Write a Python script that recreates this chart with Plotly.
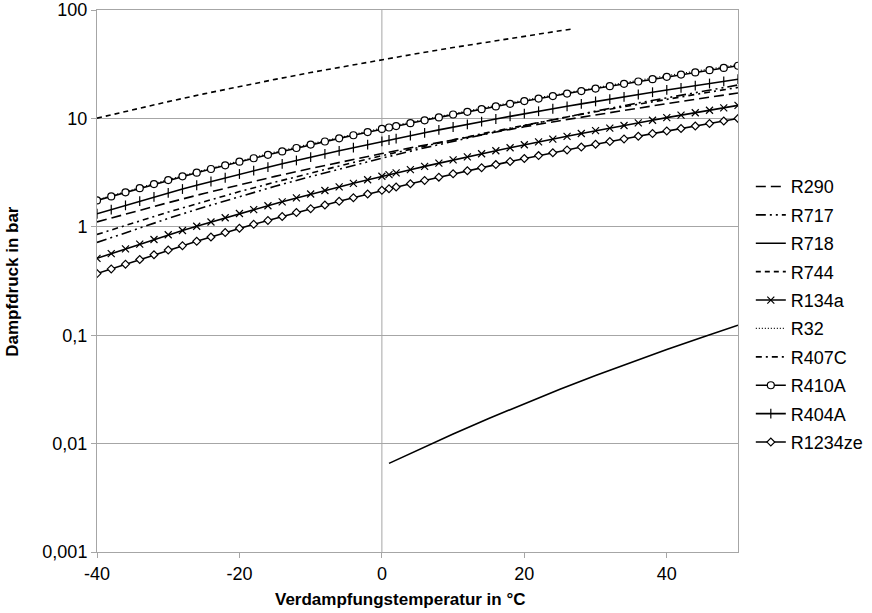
import plotly.graph_objects as go

# Temperatures (°C) for marker series
T = [-40, -38, -36, -34, -32, -30, -28, -26, -24, -22, -20, -18, -16, -14, -12, -10,
     -8, -6, -4, -2, 0, 1, 2, 4, 6, 8, 10, 12, 14, 16, 18, 20, 22, 24, 26, 28, 30,
     32, 34, 36, 38, 40, 42, 44, 46, 48, 50]

r410a = [1.75, 1.908, 2.082, 2.270, 2.476, 2.70, 2.920, 3.157, 3.413, 3.690, 3.99, 4.290,
         4.612, 4.958, 5.330, 5.73, 6.124, 6.545, 6.995, 7.476, 7.99, 8.24, 8.496, 9.034,
         9.606, 10.214, 10.86, 11.497, 12.172, 12.886, 13.64, 14.44, 15.23, 16.07, 16.94,
         17.87, 18.85, 19.82, 20.83, 21.90, 23.02, 24.20, 25.37, 26.58, 27.86, 29.20, 30.6]
r404a = [1.32, 1.443, 1.577, 1.724, 1.885, 2.06, 2.231, 2.416, 2.617, 2.835, 3.07, 3.299,
         3.546, 3.810, 4.094, 4.40, 4.702, 5.024, 5.369, 5.737, 6.13, 6.32, 6.517, 6.929,
         7.368, 7.835, 8.33, 8.815, 9.327, 9.870, 10.443, 11.05, 11.64, 12.27, 12.93,
         13.62, 14.35, 15.07, 15.82, 16.61, 17.44, 18.3, 19.16, 20.05, 20.99, 21.97, 23.0]
r134a = [0.512, 0.5659, 0.6253, 0.6911, 0.7637, 0.844, 0.924, 1.0115, 1.107, 1.212, 1.327,
         1.441, 1.565, 1.700, 1.847, 2.006, 2.163, 2.334, 2.517, 2.715, 2.928, 3.032, 3.139,
         3.365, 3.608, 3.867, 4.146, 4.421, 4.715, 5.027, 5.361, 5.717, 6.068, 6.441, 6.837,
         7.257, 7.702, 8.142, 8.607, 9.098, 9.617, 10.166, 10.708, 11.28, 11.88, 12.52, 13.18]
r1234ze = [0.37, 0.4089, 0.4519, 0.4994, 0.5519, 0.61, 0.6693, 0.7343, 0.8057, 0.884, 0.97,
           1.054, 1.145, 1.245, 1.353, 1.47, 1.589, 1.718, 1.857, 2.007, 2.17, 2.247, 2.327,
           2.496, 2.677, 2.872, 3.08, 3.288, 3.510, 3.747, 4.000, 4.27, 4.537, 4.820, 5.121,
           5.440, 5.78, 6.115, 6.469, 6.844, 7.240, 7.66, 8.076, 8.515, 8.979, 9.466, 9.98]

# Line-only series (5 °C steps)
T5 = [-40, -35, -30, -25, -20, -15, -10, -5, 0, 5, 10, 15, 20, 25, 30, 35, 40, 45, 50]
r290 = [1.11, 1.37, 1.67, 2.03, 2.44, 2.92, 3.45, 4.06, 4.74, 5.51, 6.36, 7.32, 8.36, 9.53,
        10.79, 12.18, 13.69, 15.34, 17.13]
r717 = [0.717, 0.931, 1.195, 1.515, 1.901, 2.365, 2.908, 3.549, 4.294, 5.164, 6.150, 7.283,
        8.575, 10.03, 11.67, 13.50, 15.55, 17.82, 20.33]
r32 = [1.77, 2.21, 2.73, 3.34, 4.06, 4.89, 5.83, 6.91, 8.13, 9.51, 11.07, 12.81, 14.74,
       16.89, 19.27, 21.88, 24.78, 27.93, 31.41]
r407c = [0.85, 1.08, 1.367, 1.70, 2.112, 2.58, 3.141, 3.78, 4.529, 5.38, 6.343, 7.43, 8.649,
         10.02, 11.53, 13.20, 15.05, 17.07, 19.29]

T_r744 = [-40, -35, -30, -25, -20, -15, -10, -5, 0, 5, 10, 15, 20, 25, 27]
r744 = [10.05, 12.02, 14.28, 16.83, 19.70, 22.90, 26.49, 30.47, 34.85, 39.69, 45.02, 50.87,
        57.29, 64.34, 67.1]

T_r718 = [1, 5, 10, 15, 20, 25, 30, 35, 40, 45, 50]
r718 = [0.00657, 0.00873, 0.01228, 0.01706, 0.02339, 0.03170, 0.04247, 0.05629, 0.07385,
        0.09595, 0.1235]

y_tickvals = [0.001, 0.01, 0.1, 1, 10, 100]
y_ticktext = ["0,001", "0,01", "0,1", "1", "10", "100"]
x_tickvals = [-40, -20, 0, 20, 40]
x_ticktext = ["-40", "-20", "0", "20", "40"]

FONT = "Liberation Sans, Arial, sans-serif"
BLACK = "#000000"
GRID = "#a6a6a6"

fig = go.Figure()

def add(name, x, y, dash="solid", width=1.6, symbol=None, msize=7, fill="white"):
    mode = "lines+markers" if symbol else "lines"
    kw = dict(x=x, y=y, name=name, mode=mode, legendgroup=name,
              line=dict(color=BLACK, width=width, dash=dash))
    if symbol:
        kw["marker"] = dict(symbol=symbol, size=msize, color=fill,
                            line=dict(color=BLACK, width=1.2))
    fig.add_trace(go.Scatter(**kw))

add("R290", T5, r290, dash="10px,5px")
add("R717", T5, r717, dash="10px,4px,2px,4px,2px,4px")
add("R718", T_r718, r718, dash="solid")
add("R744", T_r744, r744, dash="5px,4px")
add("R134a", T, r134a, symbol="x-thin", msize=7, fill=BLACK)
add("R32", T5, r32, dash="1px,2px", width=1.2)
add("R407C", T5, r407c, dash="6px,4px,2px,4px")
add("R410A", T, r410a, symbol="circle", msize=7)
add("R404A", T, r404a, symbol="line-ns", msize=7, fill=BLACK)
add("R1234ze", T, r1234ze, symbol="diamond", msize=6)

fig.add_shape(type="line", xref="x", yref="paper", x0=0, x1=0, y0=0, y1=1,
              line=dict(color=GRID, width=1), layer="below")

fig.update_layout(
    width=872, height=613,
    margin=dict(l=97, r=134, t=10, b=61, autoexpand=False),
    paper_bgcolor="white", plot_bgcolor="white",
    font=dict(family=FONT, size=18, color=BLACK),
    showlegend=True,
    legend=dict(x=1.02, y=0.708, xanchor="left", yanchor="top",
                font=dict(family=FONT, size=18, color=BLACK),
                tracegroupgap=2, itemwidth=30, bgcolor="rgba(0,0,0,0)"),
    xaxis=dict(range=[-40, 50], tickvals=x_tickvals, ticktext=x_ticktext,
               showgrid=False, zeroline=False, mirror=True,
               showline=True, linecolor=GRID, linewidth=1, ticks="outside", ticklen=5,
               tickcolor=GRID, tickfont=dict(family=FONT, size=18, color=BLACK),
               automargin=False, ticklabeloverflow="allow"),
    yaxis=dict(type="log", range=[-3, 2], tickvals=y_tickvals, ticktext=y_ticktext,
               showgrid=True, gridcolor=GRID, gridwidth=1, zeroline=False, mirror=True,
               showline=True, linecolor=GRID, linewidth=1, ticks="outside", ticklen=5,
               tickcolor=GRID, tickfont=dict(family=FONT, size=18, color=BLACK),
               automargin=False, ticklabeloverflow="allow"),
    annotations=[
        dict(text="<b>Verdampfungstemperatur in °C</b>", xref="paper", yref="paper",
             x=(400 - 97) / 641, y=-0.066, xanchor="center", yanchor="top",
             showarrow=False, font=dict(family=FONT, size=17, color=BLACK)),
        dict(text="<b>Dampfdruck in bar</b>", xref="paper", yref="paper",
             x=-0.133, y=0.5, xanchor="center", yanchor="middle", textangle=-90,
             showarrow=False, font=dict(family=FONT, size=17, color=BLACK)),
    ],
)

fig.write_html("out.html", config={"displayModeBar": False},
               post_script="document.body.style.margin='0';document.body.style.overflow='hidden';")
